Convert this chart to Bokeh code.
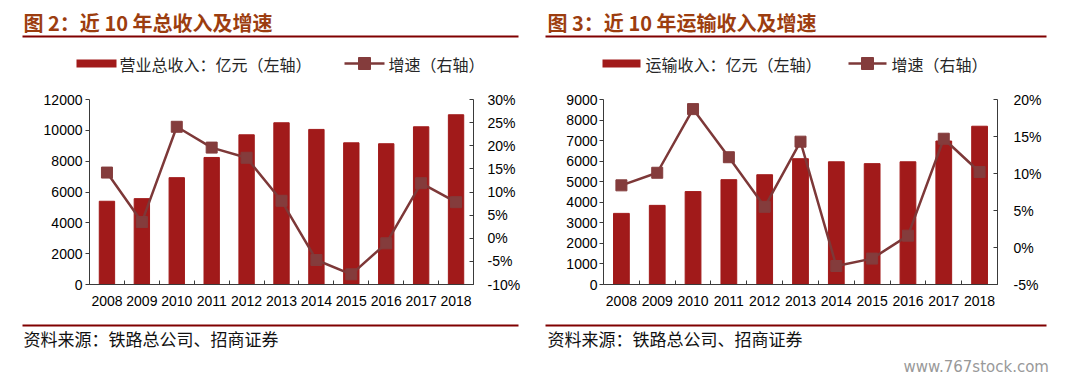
from bokeh.plotting import figure
from bokeh.models import Range1d, LinearAxis, FixedTicker, PrintfTickFormatter
from bokeh.layouts import row, column
from bokeh.core.properties import value
from bokeh.embed import file_html
from bokeh.resources import INLINE

# ---------------- data ----------------
years = ["2008", "2009", "2010", "2011", "2012", "2013", "2014", "2015", "2016", "2017", "2018"]
total_revenue = [5400, 5570, 6930, 8240, 9710, 10490, 10060, 9190, 9130, 10230, 11010]
total_growth = [14.2, 3.5, 24.1, 19.6, 17.4, 8.1, -4.7, -7.8, -1.1, 11.9, 7.8]
transport_revenue = [3460, 3850, 4520, 5100, 5340, 6120, 5970, 5880, 5970, 6980, 7700]
transport_growth = [8.4, 10.1, 18.7, 12.2, 5.5, 14.3, -2.5, -1.5, 1.6, 14.7, 10.2]

left_ticks_1 = [0, 2000, 4000, 6000, 8000, 10000, 12000]
right_ticks_1 = [-10, -5, 0, 5, 10, 15, 20, 25, 30]
left_ticks_2 = [0, 1000, 2000, 3000, 4000, 5000, 6000, 7000, 8000, 9000]
right_ticks_2 = [-5, 0, 5, 10, 15, 20]

titles = ["图 2：近 10 年总收入及增速", "图 3：近 10 年运输收入及增速"]
legend_bars = ["营业总收入：亿元（左轴）", "运输收入：亿元（左轴）"]
legend_line = "增速（右轴）"
source_text = "资料来源：铁路总公司、招商证券"
watermark = "www.767stock.com"

BAR = "#A11A1A"
LINE = "#7D3838"
MARK = "#843C3C"
TITLE_C = "#9C3D0F"
RULE_C = "#800000"
CJK = "Noto Sans CJK SC"
NUM = "Liberation Sans"
W = 1082


def canvas(width, height):
    c = figure(width=width, height=height, x_range=Range1d(0, width), y_range=Range1d(height, 0),
               min_border_left=0, min_border_right=0, min_border_top=0, min_border_bottom=0,
               output_backend="svg", toolbar_location=None, tools="",
               x_axis_type=None, y_axis_type=None)
    c.outline_line_color = None
    c.xgrid.visible = False
    c.ygrid.visible = False
    c.border_fill_color = "white"
    c.background_fill_color = "white"
    return c


def make_chart(values, growth, lticks, rticks, frame_w, ml, mr, lstand, rstand):
    n = len(years)
    xs = [i + 0.5 for i in range(n)]
    p = figure(frame_width=frame_w, frame_height=185,
               min_border_left=ml, min_border_right=mr, min_border_top=14, min_border_bottom=32,
               x_range=Range1d(0, n), y_range=Range1d(lticks[0], lticks[-1]),
               output_backend="svg", toolbar_location=None, tools="",
               x_axis_type=None, y_axis_type=None)
    p.outline_line_color = None
    p.xgrid.visible = False
    p.ygrid.visible = False
    p.background_fill_color = "white"
    p.border_fill_color = "white"
    p.extra_y_ranges = {"pct": Range1d(rticks[0], rticks[-1])}

    p.vbar(x=xs, top=values, width=0.44, color=BAR)
    p.line(x=xs, y=growth, y_range_name="pct", line_color=LINE, line_width=2.5)
    p.scatter(x=xs, y=growth, y_range_name="pct", marker="square", size=11,
              fill_color=MARK, line_color=MARK)

    xa = LinearAxis(ticker=FixedTicker(ticks=xs, minor_ticks=list(range(n + 1))))
    xa.major_label_overrides = {x: y for x, y in zip(xs, years)}
    xa.major_tick_in = 0
    xa.major_tick_out = 0
    xa.minor_tick_in = 4
    xa.minor_tick_out = 0
    xa.major_label_standoff = 11
    p.add_layout(xa, "below")

    ya = LinearAxis(ticker=FixedTicker(ticks=lticks), formatter=PrintfTickFormatter(format="%d"))
    ya.major_tick_in = 0
    ya.major_tick_out = 4
    ya.major_label_standoff = lstand
    p.add_layout(ya, "left")

    ra = LinearAxis(y_range_name="pct", ticker=FixedTicker(ticks=rticks),
                    formatter=PrintfTickFormatter(format="%d%%"))
    ra.major_tick_in = 4
    ra.major_tick_out = 0
    ra.major_label_standoff = rstand
    p.add_layout(ra, "right")

    for ax in (xa, ya, ra):
        ax.axis_line_color = "#3a3a3a"
        ax.major_tick_line_color = "#3a3a3a"
        ax.minor_tick_line_color = "#3a3a3a" if ax is xa else None
        ax.major_label_text_font = NUM
        ax.major_label_text_font_size = "14px"
        ax.major_label_text_color = "#000000"
    return p


# ---------------- header (titles, rules, legends) ----------------
header = canvas(W, 85)
header.text(x=[23, 547], y=[22, 22], text=titles, text_font=value(CJK),
            text_font_size="20px", text_font_style="bold", text_color=TITLE_C,
            text_baseline="middle", text_align="left")
header.quad(left=[22, 545], right=[518, 1046], top=[35, 35], bottom=[37, 37],
            fill_color=RULE_C, line_color=None)
# bar legend swatches and labels
header.quad(left=[76, 602], right=[116, 640], top=[59, 59], bottom=[67, 67],
            fill_color=BAR, line_color=None)
header.text(x=[119, 645], y=[63, 63], text=legend_bars, text_font=value(CJK),
            text_font_size="16px", text_color="#262626", text_baseline="middle")
# line legend
header.segment(x0=[344, 848], x1=[384, 886], y0=[63, 63], y1=[63, 63],
               line_color=LINE, line_width=2.5)
header.scatter(x=[364, 867], y=[63, 63], marker="square", size=12,
               fill_color=MARK, line_color=MARK)
header.text(x=[388, 891], y=[63, 63], text=[legend_line, legend_line], text_font=value(CJK),
            text_font_size="16px", text_color="#262626", text_baseline="middle")

# ---------------- charts ----------------
p1 = make_chart(total_revenue, total_growth, left_ticks_1, right_ticks_1,
                frame_w=384, ml=89, mr=72, lstand=3, rstand=14)
p2 = make_chart(transport_revenue, transport_growth, left_ticks_2, right_ticks_2,
                frame_w=394, ml=58, mr=85, lstand=2, rstand=16)

# ---------------- footer ----------------
footer = canvas(W, 63)
footer.quad(left=[22, 545], right=[518, 1046], top=[8, 8], bottom=[10, 10],
            fill_color=RULE_C, line_color=None)
footer.text(x=[23, 547], y=[22, 22], text=[source_text, source_text], text_font=value(CJK),
            text_font_size="17px", text_color="#111111", text_baseline="middle")
footer.text(x=[903], y=[50], text=[watermark], text_font=value("DejaVu Sans"),
            text_font_size="15px", text_color="#999999", text_baseline="middle")

layout = column(header, row(p1, p2), footer)
open("out.html", "w").write(file_html(layout, INLINE))
